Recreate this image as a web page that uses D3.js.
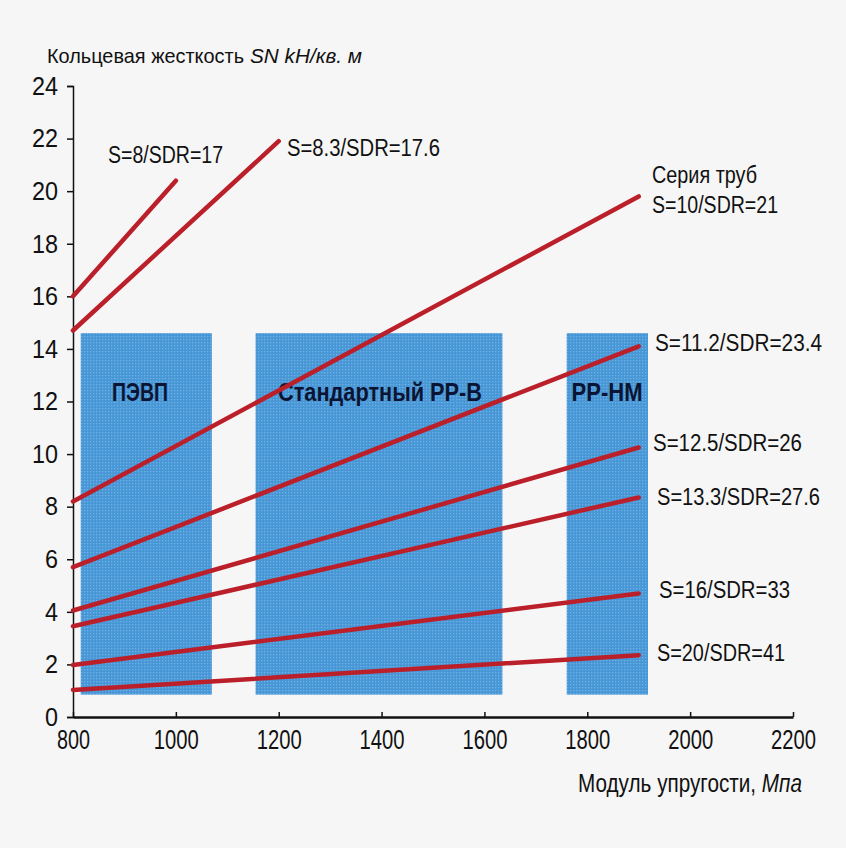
<!DOCTYPE html>
<html><head><meta charset="utf-8">
<script src="https://cdn.jsdelivr.net/npm/d3@7"></script>
<style>
html,body{margin:0;padding:0;background:#f6f6f6;}
svg{display:block;}
text{font-family:"Liberation Sans Narrow","Arial Narrow","Liberation Sans",Arial,sans-serif;fill:#111;}
</style></head>
<body>
<script>
// ---- data ----
const seriesNames = ["S=8/SDR=17","S=8.3/SDR=17.6","S=10/SDR=21","S=11.2/SDR=23.4","S=12.5/SDR=26","S=13.3/SDR=27.6","S=16/SDR=33","S=20/SDR=41"];
const startX = [800,800,800,800,800,800,800,800];
const startY = [16.0,14.7,8.2,5.7,4.05,3.45,1.98,1.03];
const endX   = [1000,1200,1900,1900,1900,1900,1900,1900];
const endY   = [20.4,21.9,19.8,14.1,10.25,8.35,4.7,2.35];

const zoneNames = ["ПЭВП","Стандартный PP-B","PP-HM"];
const zoneFrom  = [815,1155,1760];
const zoneTo    = [1070,1635,1918];
const zoneTop   = [14.6,14.6,14.6];
const zoneBottom= [0.85,0.85,0.85];

const xTicks = [800,1000,1200,1400,1600,1800,2000,2200];
const yTicks = [0,2,4,6,8,10,12,14,16,18,20,22,24];

const yTitle = ["Кольцевая жесткость","SN kH/кв. м"];
const xTitle = ["Модуль упругости, ","Мпа"];
const seriesNote = "Серия труб";

// ---- layout (positions / sizes only) ----
const W=846,H=848;
const labPos=[[108,155,115],[287,148,153],[652,205,126],[655,343,167],[653,443,149],[657,497,163],[659,590,131],[657,653,128]];
const zoneLab=[[140,392,56],[380,392,204],[607,392,71]];

const svg=d3.select("body").append("svg").attr("width",W).attr("height",H);
svg.append("rect").attr("width",W).attr("height",H).attr("fill","#f6f6f6");

const x=d3.scaleLinear().domain([800,2200]).range([73,793]);
const y=d3.scaleLinear().domain([0,24]).range([717,86]);

const defs=svg.append("defs");
const pat=defs.append("pattern").attr("id","dots").attr("width",3).attr("height",3).attr("patternUnits","userSpaceOnUse");
pat.append("rect").attr("width",3).attr("height",3).attr("fill","#4796d6");
pat.append("rect").attr("width",1.3).attr("height",1.3).attr("fill","#70b2e6");

svg.selectAll("rect.zone").data(zoneNames).enter().append("rect")
  .attr("class","zone")
  .attr("x",(d,i)=>x(zoneFrom[i]))
  .attr("width",(d,i)=>x(zoneTo[i])-x(zoneFrom[i]))
  .attr("y",(d,i)=>y(zoneTop[i]))
  .attr("height",(d,i)=>y(zoneBottom[i])-y(zoneTop[i]))
  .attr("fill","url(#dots)");

svg.selectAll("text.zone").data(zoneNames).enter().append("text")
  .attr("x",(d,i)=>zoneLab[i][0])
  .attr("y",(d,i)=>zoneLab[i][1])
  .attr("text-anchor","middle")
  .attr("dominant-baseline","central")
  .attr("textLength",(d,i)=>zoneLab[i][2]).attr("lengthAdjust","spacingAndGlyphs")
  .style("font-weight","bold").style("font-size","25px").style("fill","#0b1533")
  .text(d=>d);

// axes
const yAxis=d3.axisLeft(y).tickValues(yTicks).tickSize(6).tickPadding(9);
const gy=svg.append("g").attr("transform","translate(73,0)").call(yAxis);
gy.select(".domain").attr("stroke","#111").attr("stroke-width",1.5);
gy.selectAll(".tick line").attr("stroke","#111").attr("stroke-width",1.5);
gy.selectAll(".tick text").style("font-size","26px").attr("fill","#111")
  .attr("textLength",d=>d>=10?26:13).attr("lengthAdjust","spacingAndGlyphs");

const xAxis=d3.axisBottom(x).tickValues(xTicks).tickSizeInner(-5).tickSizeOuter(0).tickPadding(13).tickFormat(d3.format("d"));
const gx=svg.append("g").attr("transform","translate(0,717)").call(xAxis);
gx.select(".domain").attr("stroke","#111").attr("stroke-width",2.5);
gx.selectAll(".tick line").attr("stroke","#111").attr("stroke-width",1.5);
gx.selectAll(".tick text").style("font-size","27px").attr("fill","#111")
  .attr("textLength",d=>d>=1000?45:33).attr("lengthAdjust","spacingAndGlyphs");

// lines
const line=d3.line().x(d=>x(d[0])).y(d=>y(d[1]));
svg.selectAll("path.s").data(seriesNames).enter().append("path")
  .attr("class","s")
  .attr("d",(d,i)=>line([[startX[i],startY[i]],[endX[i],endY[i]]]))
  .attr("stroke","#bb1f2a").attr("stroke-width",4.5).attr("fill","none").attr("stroke-linecap","round");

// series labels
svg.selectAll("text.lab").data(seriesNames).enter().append("text")
  .attr("x",(d,i)=>labPos[i][0]).attr("y",(d,i)=>labPos[i][1])
  .attr("dominant-baseline","central")
  .attr("textLength",(d,i)=>labPos[i][2]).attr("lengthAdjust","spacingAndGlyphs")
  .style("font-size","23px")
  .text(d=>d);
svg.append("text").attr("x",652).attr("y",175).attr("dominant-baseline","central")
  .attr("textLength",105).attr("lengthAdjust","spacingAndGlyphs")
  .style("font-size","23px").text(seriesNote);

// titles
svg.append("text").attr("x",47).attr("y",55).attr("dominant-baseline","central").style("font-size","21px")
  .attr("textLength",197).attr("lengthAdjust","spacingAndGlyphs").text(yTitle[0]);
svg.append("text").attr("x",250).attr("y",55).attr("dominant-baseline","central").style("font-size","21px")
  .style("font-style","italic")
  .attr("textLength",112).attr("lengthAdjust","spacingAndGlyphs").text(yTitle[1]);

const xt=svg.append("text").attr("dominant-baseline","central").style("font-size","26px");
xt.append("tspan").text(xTitle[0]);
xt.append("tspan").style("font-style","italic").text(xTitle[1]);
const bw=xt.node().getComputedTextLength();
xt.attr("transform",`translate(578,783) scale(${224/bw},1)`);
</script>
</body></html>
